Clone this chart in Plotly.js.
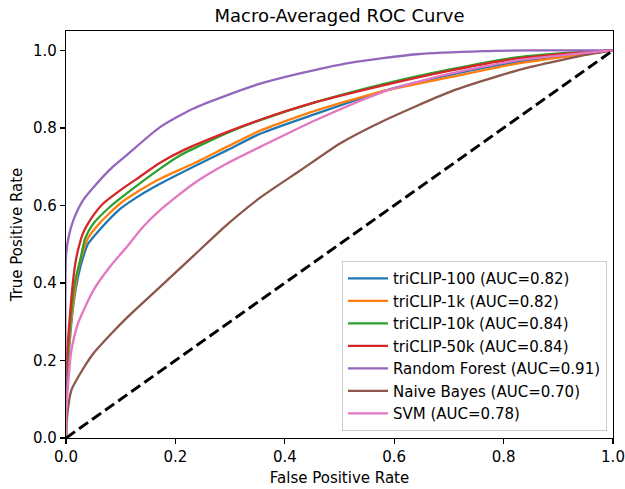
<!DOCTYPE html>
<html>
<head>
<meta charset="utf-8">
<script src="https://cdn.plot.ly/plotly-3.0.1.min.js"></script>
<style>
  html, body { margin: 0; padding: 0; background: #fff; }
  #chart { width: 625px; height: 489px; }
</style>
</head>
<body>
<div id="chart"></div>
<script>
// ---- Data ----
const seriesNames = [
  "triCLIP-100 (AUC=0.82)",
  "triCLIP-1k (AUC=0.82)",
  "triCLIP-10k (AUC=0.84)",
  "triCLIP-50k (AUC=0.84)",
  "Random Forest (AUC=0.91)",
  "Naive Bayes (AUC=0.70)",
  "SVM (AUC=0.78)"
];

const tri100Fpr = [0, 0, 0.008, 0.015, 0.022, 0.031, 0.04, 0.062, 0.099, 0.135, 0.172, 0.233, 0.294, 0.355, 0.458, 0.58, 0.702, 0.824, 0.945, 1];
const tri100Tpr = [0, 0.10, 0.27, 0.36, 0.416, 0.465, 0.50, 0.538, 0.591, 0.626, 0.656, 0.70, 0.742, 0.785, 0.837, 0.895, 0.937, 0.97, 0.99, 1];

const tri1kFpr = [0, 0, 0.008, 0.015, 0.022, 0.031, 0.04, 0.062, 0.099, 0.135, 0.172, 0.233, 0.294, 0.355, 0.458, 0.58, 0.702, 0.824, 0.945, 1];
const tri1kTpr = [0, 0.10, 0.28, 0.37, 0.433, 0.48, 0.515, 0.555, 0.605, 0.639, 0.669, 0.708, 0.751, 0.793, 0.845, 0.895, 0.931, 0.966, 0.99, 1];

const tri10kFpr = [0, 0, 0.008, 0.016, 0.026, 0.035, 0.05, 0.08, 0.111, 0.172, 0.208, 0.3, 0.355, 0.458, 0.58, 0.702, 0.824, 0.945, 1];
const tri10kTpr = [0, 0.12, 0.30, 0.40, 0.459, 0.515, 0.553, 0.596, 0.631, 0.695, 0.729, 0.79, 0.82, 0.867, 0.913, 0.951, 0.982, 0.996, 1];

const tri50kFpr = [0, 0, 0.007, 0.016, 0.022, 0.031, 0.044, 0.068, 0.099, 0.135, 0.172, 0.214, 0.294, 0.355, 0.458, 0.58, 0.702, 0.824, 0.945, 1];
const tri50kTpr = [0, 0.15, 0.313, 0.441, 0.485, 0.528, 0.562, 0.605, 0.639, 0.674, 0.71, 0.742, 0.789, 0.821, 0.867, 0.91, 0.948, 0.979, 0.995, 1];

const rfFpr = [0, 0, 0.005, 0.0135, 0.031, 0.056, 0.086, 0.111, 0.172, 0.233, 0.294, 0.355, 0.42, 0.519, 0.641, 0.763, 0.85, 1];
const rfTpr = [0, 0.47, 0.52, 0.562, 0.613, 0.656, 0.70, 0.73, 0.802, 0.850, 0.884, 0.914, 0.938, 0.968, 0.99, 0.998, 1, 1];

const nbFpr = [0, 0.002, 0.01, 0.031, 0.05, 0.08, 0.111, 0.172, 0.233, 0.294, 0.355, 0.428, 0.501, 0.58, 0.702, 0.824, 0.945, 1];
const nbTpr = [0, 0.055, 0.124, 0.178, 0.218, 0.265, 0.31, 0.39, 0.47, 0.55, 0.62, 0.69, 0.76, 0.818, 0.893, 0.948, 0.987, 1];

const svmFpr = [0, 0, 0.004, 0.01, 0.022, 0.035, 0.05, 0.08, 0.111, 0.141, 0.172, 0.233, 0.294, 0.355, 0.458, 0.58, 0.702, 0.824, 0.945, 1];
const svmTpr = [0, 0.05, 0.141, 0.227, 0.296, 0.338, 0.381, 0.441, 0.493, 0.545, 0.588, 0.656, 0.708, 0.751, 0.821, 0.893, 0.94, 0.974, 0.993, 1];

const chanceX = [0, 1];
const chanceY = [0, 1];

const colors = ["#1f77b4", "#ff7f0e", "#2ca02c", "#d62728", "#9467bd", "#8c564b", "#e377c2"];
const xTicks = [0, 0.2, 0.4, 0.6, 0.8, 1.0];
const yTicks = [0, 0.2, 0.4, 0.6, 0.8, 1.0];

const xs = [tri100Fpr, tri1kFpr, tri10kFpr, tri50kFpr, rfFpr, nbFpr, svmFpr];
const ys = [tri100Tpr, tri1kTpr, tri10kTpr, tri50kTpr, rfTpr, nbTpr, svmTpr];

const FONT = "DejaVu Sans, sans-serif";

const traces = xs.map((x, i) => ({
  type: "scatter",
  mode: "lines",
  x: x,
  y: ys[i],
  name: seriesNames[i],
  line: { color: colors[i], width: 2.3, shape: "spline", smoothing: 0.6 },
  hoverinfo: "skip"
}));

traces.push({
  type: "scatter",
  mode: "lines",
  x: chanceX,
  y: chanceY,
  showlegend: false,
  line: { color: "#000000", width: 3, dash: "11px,5px" },
  hoverinfo: "skip"
});

const axisCommon = {
  showgrid: false,
  zeroline: false,
  showline: true,
  linecolor: "#000000",
  linewidth: 1.2,
  mirror: true,
  ticks: "outside",
  ticklen: 5,
  tickwidth: 1.2,
  tickcolor: "#000000",
  tickformat: ".1f",
  automargin: false,
  tickfont: { family: FONT, size: 15, color: "#000000" }
};

const layout = {
  width: 625,
  height: 489,
  paper_bgcolor: "#ffffff",
  plot_bgcolor: "#ffffff",
  margin: { l: 66, r: 12, t: 31, b: 51 },
  title: {
    text: "Macro-Averaged ROC Curve",
    font: { family: FONT, size: 18, color: "#000000" },
    x: 0.5,
    xref: "paper",
    xanchor: "center",
    y: 0.968,
    yref: "container",
    yanchor: "middle"
  },
  xaxis: Object.assign({}, axisCommon, {
    range: [0, 1],
    tickvals: xTicks,
    title: { text: "False Positive Rate", font: { family: FONT, size: 15, color: "#000000" }, standoff: 7 }
  }),
  yaxis: Object.assign({}, axisCommon, {
    range: [0, 1.05],
    tickvals: yTicks,
    title: { text: "True Positive Rate", font: { family: FONT, size: 15, color: "#000000" }, standoff: 6 }
  }),
  legend: {
    x: 0.989,
    xanchor: "right",
    y: 0.017,
    yanchor: "bottom",
    bgcolor: "rgba(255,255,255,0.8)",
    bordercolor: "#cccccc",
    borderwidth: 1,
    itemwidth: 40,
    font: { family: FONT, size: 15, color: "#000000" },
    tracegroupgap: 0
  },
  showlegend: true
};

Plotly.newPlot("chart", traces, layout, { displayModeBar: false, staticPlot: true });
</script>
</body>
</html>
